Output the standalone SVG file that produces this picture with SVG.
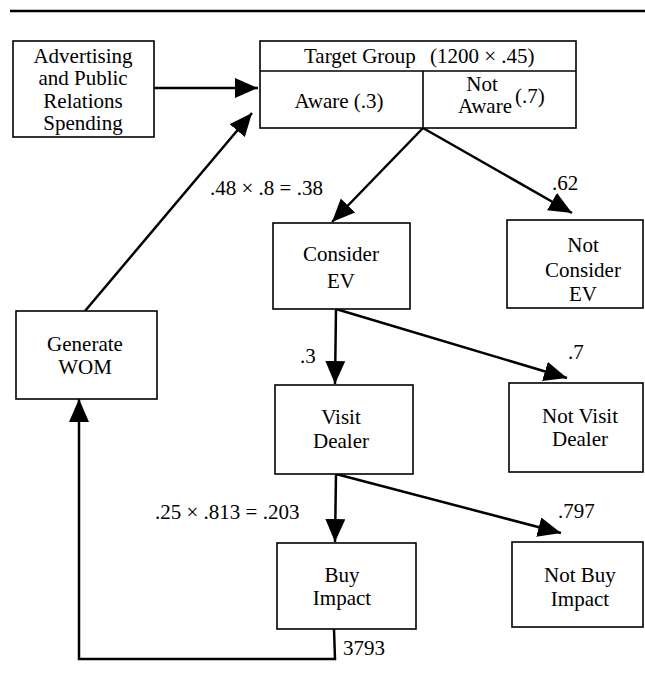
<svg xmlns="http://www.w3.org/2000/svg" width="645" height="678" viewBox="0 0 645 678">
<style>
  .box { fill: #fff; stroke: #000; stroke-width: 1.6; }
  .t { font-family: "Liberation Serif", "DejaVu Serif", "Noto Serif", "Times New Roman", serif; font-size: 21px; fill: #000; }
  .c { text-anchor: middle; }
  .edge { fill: none; stroke: #000; stroke-width: 2.5; }
  .arr { marker-end: url(#ah); }
</style>
<defs>
  <marker id="ah" markerUnits="userSpaceOnUse" markerWidth="26" markerHeight="22" refX="23" refY="10" orient="auto">
    <path d="M0,0 L23,10 L0,20 z" fill="#000"/>
  </marker>
</defs>
<rect width="645" height="678" fill="#fff"/>
<line x1="10" y1="11" x2="645" y2="11" stroke="#000" stroke-width="2.5"/>

<g id="connectors">
  <line class="edge arr" x1="154" y1="88" x2="258" y2="88"/>
  <line class="edge arr" x1="85" y1="311" x2="252" y2="113"/>
  <line class="edge arr" x1="423" y1="128" x2="332" y2="222"/>
  <line class="edge arr" x1="423" y1="128" x2="572" y2="213"/>
  <line class="edge arr" x1="336" y1="309" x2="335" y2="384"/>
  <line class="edge arr" x1="336" y1="309" x2="567" y2="378"/>
  <line class="edge arr" x1="336" y1="474" x2="335" y2="542"/>
  <line class="edge arr" x1="336" y1="474" x2="561" y2="533"/>
  <polyline class="edge arr" points="334,629 335,659 79,659 79,399"/>
  <text class="t" x="210" y="195" font-family="Liberation Serif, serif">.48 × .8 = .38</text>
  <text class="t" x="552" y="190">.62</text>
  <text class="t" x="300" y="363">.3</text>
  <text class="t" x="568" y="359">.7</text>
  <text class="t" x="155" y="519">.25 × .813 = .203</text>
  <text class="t" x="558" y="518">.797</text>
  <text class="t" x="343" y="655">3793</text>
</g>

<g id="advertising">
  <rect class="box" x="13" y="41" width="141" height="96"/>
  <text class="t c" x="83" y="63">Advertising</text>
  <text class="t c" x="83" y="85">and Public</text>
  <text class="t c" x="83" y="108">Relations</text>
  <text class="t c" x="83" y="130">Spending</text>
</g>

<g id="target-group">
  <rect class="box" x="260" y="41" width="316" height="87"/>
  <line x1="260" y1="71" x2="576" y2="71" stroke="#000" stroke-width="1.6"/>
  <line x1="423" y1="71" x2="423" y2="128" stroke="#000" stroke-width="1.6"/>
  <text class="t" x="304" y="63">Target Group</text>
  <text class="t" x="430" y="63">(1200 × .45)</text>
  <text class="t c" x="339" y="108">Aware (.3)</text>
  <text class="t c" x="482" y="91">Not</text>
  <text class="t c" x="485" y="113">Aware</text>
  <text class="t" x="515" y="103">(.7)</text>
</g>

<g id="consider-ev">
  <rect class="box" x="273" y="223" width="137" height="86"/>
  <text class="t c" x="341" y="261">Consider</text>
  <text class="t c" x="341" y="288">EV</text>
</g>

<g id="not-consider-ev">
  <rect class="box" x="507" y="220" width="136" height="88"/>
  <text class="t c" x="583" y="252">Not</text>
  <text class="t c" x="583" y="277">Consider</text>
  <text class="t c" x="583" y="301">EV</text>
</g>

<g id="generate-wom">
  <rect class="box" x="16" y="311" width="141" height="88"/>
  <text class="t c" x="85" y="351">Generate</text>
  <text class="t c" x="85" y="374">WOM</text>
</g>

<g id="visit-dealer">
  <rect class="box" x="275" y="385" width="138" height="89"/>
  <text class="t c" x="341" y="424">Visit</text>
  <text class="t c" x="341" y="448">Dealer</text>
</g>

<g id="not-visit-dealer">
  <rect class="box" x="509" y="383" width="134" height="89"/>
  <text class="t c" x="580" y="423">Not Visit</text>
  <text class="t c" x="580" y="446">Dealer</text>
</g>

<g id="buy-impact">
  <rect class="box" x="277" y="543" width="139" height="86"/>
  <text class="t c" x="342" y="582">Buy</text>
  <text class="t c" x="342" y="605">Impact</text>
</g>

<g id="not-buy-impact">
  <rect class="box" x="512" y="542" width="131" height="85"/>
  <text class="t c" x="580" y="582">Not Buy</text>
  <text class="t c" x="580" y="606">Impact</text>
</g>
</svg>
